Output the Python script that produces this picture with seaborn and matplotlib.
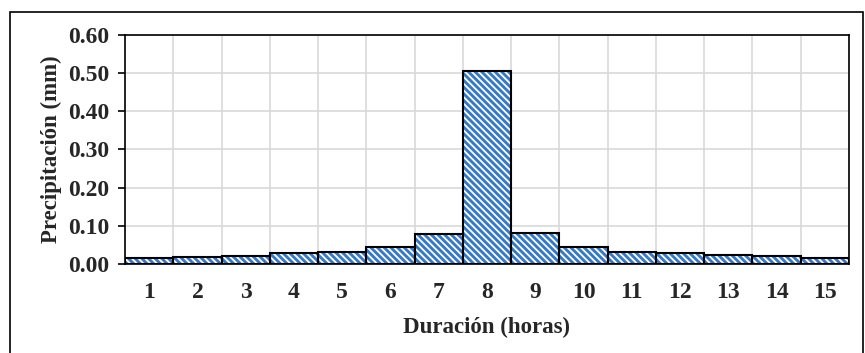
import numpy as np
import pandas as pd
import matplotlib
matplotlib.use("Agg")
import matplotlib.pyplot as plt
import seaborn as sns
from matplotlib.patches import Rectangle
from matplotlib.ticker import FixedLocator, MultipleLocator

# ==================== datos ====================
horas = [str(h) for h in range(1, 16)]
precip = [0.017, 0.019, 0.022, 0.028, 0.032, 0.045, 0.079, 0.506,
          0.082, 0.045, 0.032, 0.028, 0.023, 0.020, 0.017]
y_ticks = [0.0, 0.1, 0.2, 0.3, 0.4, 0.5, 0.6]

df = pd.DataFrame({"Duracion": horas, "Precip": precip})

sns.set_theme(style="white")
plt.rcParams['font.family'] = ['Liberation Serif', 'DejaVu Serif']
plt.rcParams['font.weight'] = 'bold'
plt.rcParams['hatch.linewidth'] = 1.3

fig = plt.figure(figsize=(8.65, 3.53), dpi=100)
ax = fig.add_axes([0.1445, 0.252, 0.837, 0.649])

# relleno azul con trama blanca
sns.barplot(data=df, x="Duracion", y="Precip", ax=ax, width=1.0,
            color="#3579c8", saturation=1, zorder=2)
for p in ax.patches:
    p.set_hatch("\\\\\\\\\\")
    p.set_edgecolor("white")
    p.set_linewidth(0)

# contorno negro
sns.barplot(data=df, x="Duracion", y="Precip", ax=ax, width=1.0,
            fill=False, edgecolor="black", linewidth=1.5, zorder=3)

ax.set_ylim(0, 0.6)
ax.set_xlim(-0.5, 14.5)
ax.yaxis.set_major_locator(FixedLocator(y_ticks))
ax.set_yticklabels([f"{v:.2f}" for v in y_ticks])
ax.xaxis.set_minor_locator(MultipleLocator(1, offset=0.5))
ax.grid(axis="y", which="major", color="#d9d9d9", linewidth=1.2, zorder=0)
ax.grid(axis="x", which="minor", color="#d9d9d9", linewidth=1.2, zorder=0)
ax.set_axisbelow(True)

for s in ax.spines.values():
    s.set_visible(True)
    s.set_color("black")
    s.set_linewidth(1.2)

ax.tick_params(axis="x", which="both", length=0, labelsize=17, pad=13)
ax.tick_params(axis="y", which="major", length=5, width=1.2, color="black",
               labelsize=17, pad=6, left=True)
for lab in ax.get_xticklabels() + ax.get_yticklabels():
    lab.set_fontweight("bold")

ax.set_xlabel("Duración (horas)", fontsize=16.5, fontweight="bold", labelpad=10)
ax.set_ylabel("Precipitación (mm)", fontsize=16.5, fontweight="bold", labelpad=5)

# marco exterior
fig.patches.append(Rectangle((10 / 865, -0.05), 853 / 865, 1.05 - 12 / 353,
                             transform=fig.transFigure, fill=False,
                             edgecolor="black", linewidth=1.2))

fig.savefig("out.png", dpi=100)
